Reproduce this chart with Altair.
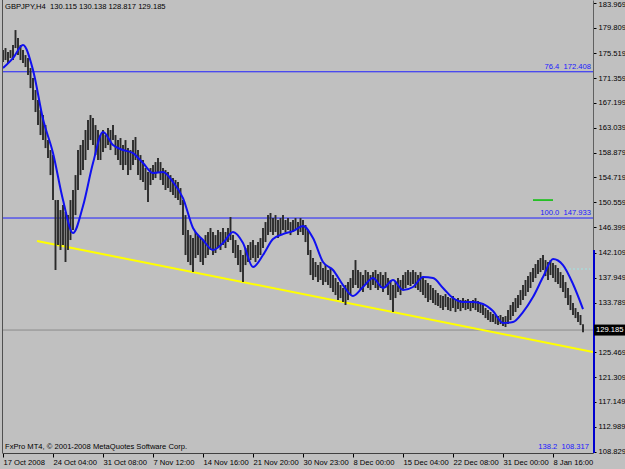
import altair as alt
import pandas as pd

# ---- data (GBPJPY H4, 4-hour bars) ----
highs = [
    176.04, 176.38, 175.71, 176.04, 176.88, 179.39, 178.05, 176.88,
    176.04, 175.21, 174.70, 173.03, 171.36, 169.35, 167.68, 166.00,
    165.17, 163.49, 160.98, 159.31, 158.47, 150.94, 150.94, 149.27,
    150.11, 148.93, 148.43, 150.94, 152.62, 155.12, 159.31, 160.15,
    160.98, 162.66, 164.33, 165.17, 164.66, 163.49, 162.66, 161.82,
    162.66, 161.82, 162.99, 162.66, 163.49, 161.82, 160.98, 161.32,
    160.15, 160.98, 159.64, 159.31, 160.98, 161.49, 159.31, 158.47,
    157.64, 156.30, 155.63, 156.30, 156.80, 157.30, 157.97, 157.30,
    156.30, 155.96, 155.63, 155.12, 154.62, 154.29, 153.95, 152.95,
    150.94, 148.43, 145.92, 145.08, 144.58, 145.59, 145.08, 144.58,
    144.25, 145.08, 145.59, 146.26, 145.59, 145.08, 145.92, 145.59,
    146.26, 145.59, 146.26, 148.10, 145.08, 144.25, 143.41, 142.58,
    141.74, 142.91, 143.41, 143.91, 144.25, 143.41, 143.91, 144.58,
    146.26, 147.26, 148.43, 148.77, 147.93, 148.43, 147.60, 147.93,
    148.43, 147.60, 147.93, 147.26, 147.60, 147.93, 147.26, 147.93,
    147.60, 146.76, 145.92, 142.58, 141.24, 140.57, 140.06, 140.57,
    139.56, 140.06, 139.23, 139.56, 138.39, 137.89, 137.22, 136.72,
    136.22, 136.72, 137.22, 137.89, 139.23, 140.90, 139.23, 138.89,
    138.39, 139.23, 138.89, 138.39, 138.89, 139.23, 138.56, 138.89,
    138.39, 138.89, 137.89, 137.56, 136.72, 137.22, 137.89, 137.56,
    138.39, 138.89, 139.23, 138.89, 139.23, 138.89, 138.39, 138.89,
    137.89, 137.56, 137.05, 136.72, 136.22, 135.88, 135.38, 135.04,
    134.88, 135.21, 134.71, 134.54, 134.88, 134.37, 134.54, 134.21,
    134.54, 134.21, 134.37, 134.04, 134.21, 134.54, 134.04, 133.70,
    133.37, 132.87, 132.53, 132.20, 131.86, 131.70, 131.53, 131.70,
    131.36, 131.53, 132.53, 133.37, 133.87, 134.54, 135.04, 135.88,
    136.72, 137.56, 138.22, 138.89, 139.56, 140.23, 140.90, 141.24,
    141.74, 140.90, 140.57, 140.90, 140.40, 140.06, 139.56, 138.89,
    138.39, 137.22, 136.22, 135.04, 133.70, 132.87, 132.20, 131.70,
    130.138,
]
lows = [
    174.04, 174.37, 173.87, 174.70, 174.37, 176.38, 175.21, 174.37,
    173.87, 173.20, 171.86, 169.68, 167.68, 165.67, 163.49, 161.82,
    160.98, 159.64, 157.97, 155.12, 150.94, 139.23, 143.41, 142.58,
    143.41, 140.57, 142.58, 144.25, 145.92, 148.43, 152.62, 155.12,
    155.96, 157.64, 159.31, 160.98, 160.15, 158.47, 157.64, 157.64,
    158.97, 159.64, 160.15, 159.31, 160.98, 158.47, 157.64, 156.80,
    155.96, 156.80, 155.12, 155.96, 156.80, 157.64, 155.12, 154.29,
    153.95, 152.62, 150.61, 153.45, 154.29, 154.62, 155.63, 154.29,
    153.45, 152.62, 152.95, 152.28, 151.78, 151.28, 150.94, 150.11,
    145.08, 141.74, 140.57, 140.06, 138.89, 141.24, 141.74, 140.57,
    140.06, 141.24, 141.74, 142.58, 141.74, 142.08, 142.91, 142.58,
    143.41, 142.91, 143.91, 144.25, 142.08, 141.24, 140.06, 138.89,
    137.22, 140.06, 140.57, 140.90, 141.24, 140.57, 141.24, 141.74,
    142.91, 143.91, 145.08, 145.59, 145.08, 145.59, 144.58, 145.08,
    145.92, 145.59, 145.92, 145.08, 145.59, 145.92, 145.08, 145.59,
    145.08, 143.91, 141.74, 138.39, 137.56, 138.05, 137.22, 137.56,
    136.72, 137.22, 136.72, 136.22, 135.55, 135.04, 134.21, 134.54,
    133.87, 133.37, 134.21, 135.04, 136.22, 136.72, 136.22, 135.88,
    135.55, 136.72, 136.22, 135.88, 136.72, 136.22, 135.88, 136.22,
    135.55, 136.22, 135.04, 134.21, 132.20, 134.54, 135.55, 135.04,
    135.88, 136.22, 136.72, 136.55, 136.89, 136.22, 135.88, 135.55,
    135.04, 134.54, 133.87, 134.21, 133.70, 133.37, 133.20, 132.87,
    132.53, 133.04, 132.53, 132.36, 132.87, 132.20, 132.70, 132.36,
    132.87, 132.53, 132.70, 132.36, 132.87, 132.53, 132.20, 132.03,
    131.70, 131.19, 130.86, 130.53, 130.53, 130.19, 130.02, 130.19,
    129.86, 129.69, 130.19, 130.86, 131.53, 132.20, 132.87, 133.37,
    134.21, 134.88, 135.55, 136.22, 137.22, 137.89, 138.56, 138.89,
    139.23, 138.22, 137.56, 138.39, 137.89, 137.22, 136.89, 136.22,
    135.55, 134.54, 133.37, 132.53, 131.70, 131.19, 130.53, 130.02,
    128.817,
]
# moving average sampled every 4 bars
ma_vals = [
    173.03, 174.70, 176.88, 172.70, 164.50, 158.81, 150.94, 145.42,
    149.94, 157.13, 162.32, 160.15, 159.31, 158.81, 157.13, 155.46,
    155.63, 153.95, 151.28, 146.26, 144.25, 142.58, 143.75, 145.59,
    143.75, 139.73, 141.74, 144.41, 145.25, 145.75, 146.59, 144.58,
    140.57, 139.23, 136.72, 134.88, 136.39, 137.89, 136.22, 137.56,
    135.88, 136.39, 138.05, 137.89, 136.22, 134.54, 133.87, 133.87,
    133.54, 132.36, 130.36, 130.53, 132.20, 134.71, 138.05, 141.07,
    140.06, 136.89, 132.70,
]
x_labels = ["17 Oct 2008", "24 Oct 04:00", "31 Oct 08:00", "7 Nov 12:00",
            "14 Nov 16:00", "21 Nov 20:00", "30 Nov 23:00", "8 Dec 00:00",
            "15 Dec 04:00", "22 Dec 08:00", "31 Dec 00:00", "8 Jan 16:00"]
y_ticks = [183.969, 179.809, 175.519, 171.359, 167.199, 163.039, 158.879,
           154.719, 150.559, 146.399, 142.109, 137.949, 133.789,
           125.469, 121.309, 117.149, 112.989, 108.829]
fib_levels = [172.408, 147.933]
fib_texts = ["76.4\u00a0\u00a0172.408", "100.0\u00a0\u00a0147.933"]
last_price = 129.185
trend_bars = [13.6, 236.0]
trend_prices = [144.09, 125.51]
green_bars = [212, 220]
green_price = 150.94
cyan_bars = [220, 235]
cyan_price = 139.40
title_text = "GBPJPY,H4\u00a0\u00a0130.115 130.138 128.817 129.185"
copyright_text = "FxPro MT4, \u00a9 2001-2008 MetaQuotes Software Corp."
bottom_fib_text = "138.2\u00a0\u00a0108.317"

LABEL_STEP = 20
FONT = "Liberation Sans"
FS = 7.6

bars = pd.DataFrame({"i": list(range(len(highs))), "high": highs, "low": lows})
ma = pd.DataFrame({"i": list(range(0, 4 * len(ma_vals), 4)), "ma": ma_vals})
trend = pd.DataFrame({"i": trend_bars, "p": trend_prices})

xdom = [-0.4, 236.0]
ydom = [108.61, 184.42]

label_arr = "[" + ",".join("'%s'" % s for s in x_labels) + "]"
x_scale = alt.Scale(domain=xdom, nice=False, zero=False)
y_scale = alt.Scale(domain=ydom, nice=False, zero=False)

x_axis = alt.Axis(values=[k * LABEL_STEP for k in range(len(x_labels))],
                  labelExpr=label_arr + "[round(datum.value/%d)]" % LABEL_STEP,
                  labelAlign="left", labelBaseline="top", labelPadding=1,
                  labelFont=FONT, labelFontSize=FS, labelColor="black",
                  tickSize=4, tickColor="black", domainColor="#404040",
                  grid=False, title=None, labelFlush=False, labelOverlap=False)
y_axis = alt.Axis(orient="right", values=y_ticks, format=".3f",
                  labelFont=FONT, labelFontSize=FS, labelColor="black",
                  labelPadding=2, tickSize=3, tickColor="black",
                  labelOffset={"condition": {"test": "datum.value > 183", "value": 2},
                               "value": 0},
                  domainColor="#606060", grid=False, title=None,
                  labelOverlap=False, labelFlush=False, labelBound=False)


def X(f):
    return alt.X(f, scale=x_scale, axis=x_axis)


def Y(f):
    return alt.Y(f, scale=y_scale, axis=y_axis)


base_bars = alt.Chart(bars).mark_rule(color="#2a2a2a", strokeWidth=1.9).encode(
    x=X("i:Q"), y=Y("low:Q"), y2="high:Q")

ma_line = alt.Chart(ma).mark_line(color="#1010f0", strokeWidth=2,
                                  interpolate="monotone").encode(
    x=X("i:Q"), y=Y("ma:Q"))

hlines = alt.Chart(pd.DataFrame({"p": fib_levels})).mark_rule(
    color="#2020ff", strokeWidth=1).encode(y=Y("p:Q"))
fib_lbl = alt.Chart(pd.DataFrame({"p": fib_levels, "t": fib_texts})).mark_text(
    align="right", baseline="bottom", dy=-1, font=FONT, fontSize=FS,
    color="#1818ff").encode(x=alt.value(589), y=Y("p:Q"), text="t:N")

last_line = alt.Chart(pd.DataFrame({"p": [last_price]})).mark_rule(
    color="#8a8a8a", strokeWidth=1).encode(y=Y("p:Q"))

trend_line = alt.Chart(trend).mark_line(color="#ffff00", strokeWidth=2,
                                        clip=True).encode(x=X("i:Q"), y=Y("p:Q"))

green = alt.Chart(pd.DataFrame({"a": [green_bars[0]], "b": [green_bars[1]],
                                "p": [green_price]})).mark_rule(
    color="#00c000", strokeWidth=1.5).encode(x=X("a:Q"), x2="b:Q", y=Y("p:Q"))
cyan = alt.Chart(pd.DataFrame({"a": [cyan_bars[0]], "b": [cyan_bars[1]],
                               "p": [cyan_price]})).mark_rule(
    color="#9ee6e6", strokeWidth=1, strokeDash=[2, 2]).encode(
    x=X("a:Q"), x2="b:Q", y=Y("p:Q"))

right_blue = alt.Chart(pd.DataFrame({"p1": [142.6], "p2": [ydom[0]]})).mark_rule(
    color="#0000d0", strokeWidth=2).encode(x=alt.value(592), y=Y("p1:Q"), y2="p2:Q")
left_border = alt.Chart(pd.DataFrame({"p1": [ydom[0]], "p2": [ydom[1]]})).mark_rule(
    color="#505050", strokeWidth=1).encode(x=alt.value(0.5), y=Y("p1:Q"), y2="p2:Q")

price_box = alt.Chart(pd.DataFrame({"p": [last_price]})).mark_rect(
    color="black", height=11, clip=False).encode(
    x=alt.value(592), x2=alt.value(623), y=Y("p:Q"))
price_txt = alt.Chart(pd.DataFrame({"p": [last_price], "t": ["%.3f" % last_price]})).mark_text(
    align="left", baseline="middle", font=FONT, fontSize=FS, color="white",
    clip=False).encode(x=alt.value(594), y=Y("p:Q"), text="t:N")

title = alt.Chart(pd.DataFrame({"t": [title_text]})).mark_text(
    align="left", baseline="middle", font=FONT, fontSize=FS, color="black").encode(
    x=alt.value(3), y=alt.value(7), text="t:N")
copyright = alt.Chart(pd.DataFrame({"t": [copyright_text]})).mark_text(
    align="left", baseline="middle", font=FONT, fontSize=FS, color="black").encode(
    x=alt.value(3), y=alt.value(447), text="t:N")
bottom_fib = alt.Chart(pd.DataFrame({"t": [bottom_fib_text]})).mark_text(
    align="right", baseline="middle", font=FONT, fontSize=FS, color="#1818ff").encode(
    x=alt.value(587), y=alt.value(447), text="t:N")

chart = alt.layer(
    last_line, hlines, green, cyan, trend_line, base_bars, ma_line,
    fib_lbl, bottom_fib, title, copyright, left_border, right_blue,
    price_box, price_txt,
).properties(
    width=591, height=453, background="#c0c0c0",
    padding={"left": 2, "top": 0, "right": 32, "bottom": 16},
    autosize=alt.AutoSizeParams(type="none"),
).configure_view(stroke=None).configure_axis(labelOverlap=False)

chart.save("out.html", embed_options={"renderer": "svg", "actions": False})
